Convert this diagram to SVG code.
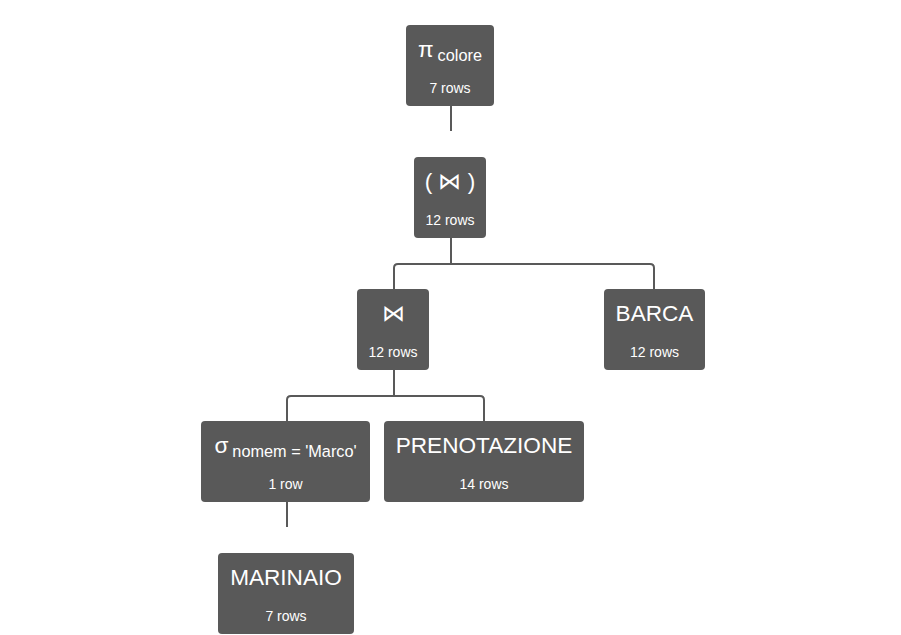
<svg xmlns="http://www.w3.org/2000/svg" width="901" height="635" viewBox="0 0 901 635">
<style>
.n rect{fill:#595959;}
.n text{fill:#fff;font-family:"Liberation Sans",Arial,sans-serif;text-anchor:middle;}
.t{font-size:22.6px;}
.s{font-size:16.3px;}
.r{font-size:14px;}
.c path{fill:none;stroke:#595959;stroke-width:2;}
</style>
<rect width="901" height="635" fill="#fff"/>
<g class="c">
<path d="M451 106V131"/>
<path d="M451 238V264M398 264H650Q654 264 654 268V289M398 264Q394 264 394 268V289"/>
<path d="M394 370V396M291 396H480Q484 396 484 400V421M291 396Q287 396 287 400V421"/>
<path d="M287 502V527"/>
</g>
<g id="proj" class="n"><rect x="406" y="25" width="88" height="81" rx="4"/>
<text x="450" y="57"><tspan class="t">π</tspan><tspan class="s" dx="4" dy="4">colore</tspan></text>
<text class="r" x="450" y="93">7 rows</text></g>
<g id="join1" class="n"><rect x="414" y="157" width="72" height="81" rx="4"/>
<text class="t" x="450" y="189">( ⋈ )</text>
<text class="r" x="450" y="225">12 rows</text></g>
<g id="join2" class="n"><rect x="357" y="289" width="72" height="81" rx="4"/>
<text class="t" x="393" y="321">⋈</text>
<text class="r" x="393" y="357">12 rows</text></g>
<g id="barca" class="n"><rect x="604" y="289" width="101" height="81" rx="4"/>
<text class="t" x="654.5" y="321">BARCA</text>
<text class="r" x="654.5" y="357">12 rows</text></g>
<g id="sel" class="n"><rect x="201" y="421" width="169" height="81" rx="4"/>
<text x="285.5" y="453"><tspan class="t">σ</tspan><tspan class="s" dx="4" dy="4">nomem = 'Marco'</tspan></text>
<text class="r" x="285.5" y="489">1 row</text></g>
<g id="pren" class="n"><rect x="384" y="421" width="200" height="81" rx="4"/>
<text class="t" x="484" y="453">PRENOTAZIONE</text>
<text class="r" x="484" y="489">14 rows</text></g>
<g id="mar" class="n"><rect x="218" y="553" width="136" height="81" rx="4"/>
<text class="t" x="286" y="585">MARINAIO</text>
<text class="r" x="286" y="621">7 rows</text></g>
</svg>
